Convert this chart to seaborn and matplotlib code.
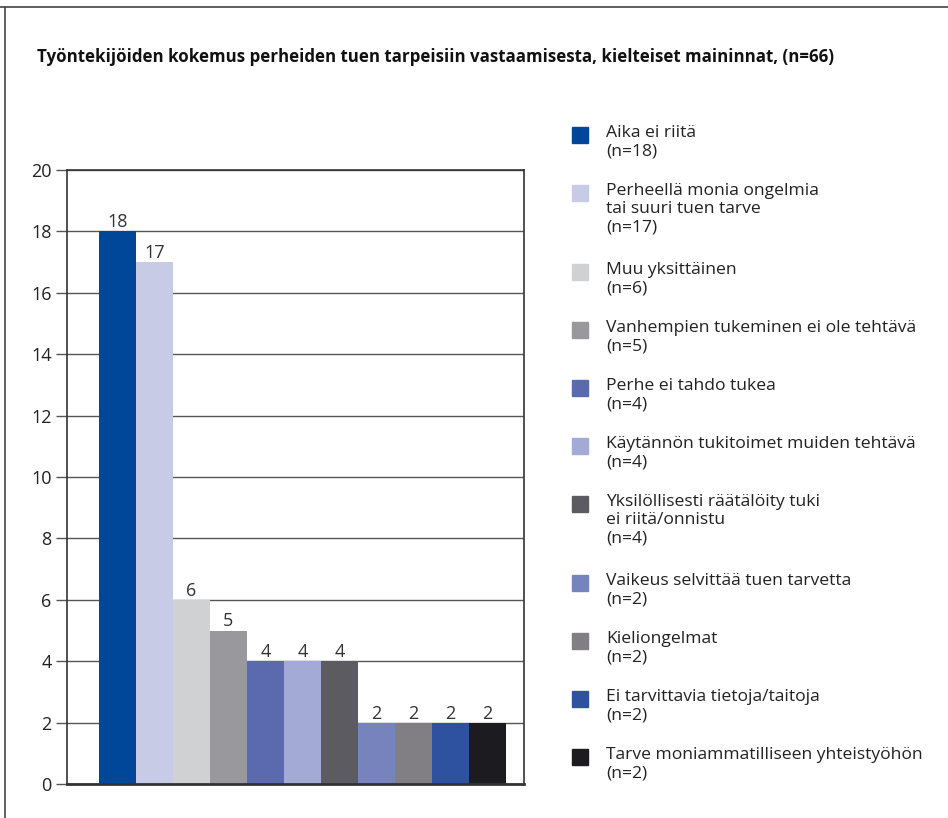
"""
Kielteiset maininnat: työntekijöiden kokemus perheiden tuen tarpeisiin vastaamisesta.
Bar chart with a hand-placed legend to the right, drawn with seaborn.
"""

import matplotlib
matplotlib.use("Agg")
import matplotlib.pyplot as plt
import seaborn as sns
from matplotlib.patches import Rectangle
from matplotlib.lines import Line2D

# Data
categories = [
    "Aika ei riitä",
    "Perheellä monia ongelmia\ntai suuri tuen tarve",
    "Muu yksittäinen",
    "Vanhempien tukeminen ei ole tehtävä",
    "Perhe ei tahdo tukea",
    "Käytännön tukitoimet muiden tehtävä",
    "Yksilöllisesti räätälöity tuki\nei riitä/onnistu",
    "Vaikeus selvittää tuen tarvetta",
    "Kieliongelmat",
    "Ei tarvittavia tietoja/taitoja",
    "Tarve moniammatilliseen yhteistyöhön",
]
counts = [18, 17, 6, 5, 4, 4, 4, 2, 2, 2, 2]
colors = ["#00479a", "#c7cbe6", "#d0d1d3", "#98989d", "#5b69ae", "#a3aad5",
          "#5c5b62", "#7783bd", "#817f84", "#2f52a0", "#1c1c20"]
title = "Työntekijöiden kokemus perheiden tuen tarpeisiin vastaamisesta, kielteiset maininnat, (n=66)"

sns.set_style("white")
plt.rcParams["font.family"] = ["Open Sans", "DejaVu Sans"]

W, H = 948, 818
fig = plt.figure(figsize=(W / 100, H / 100), dpi=100)
ax = fig.add_axes([67 / W, 1 - 784 / H, (524 - 67) / W, (784 - 170) / H])

sns.barplot(x=list(range(len(counts))), y=counts, hue=list(range(len(counts))),
            palette=colors, width=1.0, legend=False, ax=ax, saturation=1,
            linewidth=0)

ax.set_xlim(-1.36, 10.99)
ax.set_ylim(0, 20)
ax.set_yticks(range(0, 21, 2))
ax.set_xticks([])
ax.set_xlabel("")
ax.set_ylabel("")
ax.yaxis.grid(True, color="#555555", linewidth=1.0)
ax.set_axisbelow(True)
ax.tick_params(axis="y", left=True, length=8, width=1, color="#555555",
               labelsize=13, labelcolor="#222222", pad=3)
for side in ["left", "top", "right"]:
    ax.spines[side].set_color("#333333")
    ax.spines[side].set_linewidth(1.2)
ax.spines["bottom"].set_color("#333333")
ax.spines["bottom"].set_linewidth(2)

# value labels above bars
for i, v in enumerate(counts):
    ax.annotate(str(v), (i, v), xytext=(0, 0), textcoords="offset points",
                ha="center", va="bottom", fontsize=13, color="#333333")

# title
fig.text(37 / W, 1 - 57 / H, title, fontsize=12.2, fontweight="bold",
         ha="left", va="center", color="#111111")

# legend, placed by hand
y = 135
for lab, v, c in zip(categories, counts, colors):
    fig.patches.append(Rectangle((572 / W, 1 - (y + 8) / H), 16 / W, 16 / H,
                                 transform=fig.transFigure, color=c))
    text = lab + "\n(n=%d)" % v
    fig.text(606 / W, 1 - (y - 10) / H, text, fontsize=12.6, color="#222222",
             ha="left", va="top", linespacing=1.18)
    y += (lab.count("\n") + 2) * 21 + 16

# outer frame
fig.add_artist(Line2D([0, 1], [1 - 7 / H, 1 - 7 / H], color="#444444", lw=1.2))
fig.add_artist(Line2D([5 / W, 5 / W], [0, 1 - 7 / H], color="#444444", lw=1.2))

fig.savefig("out.png", dpi=100)
